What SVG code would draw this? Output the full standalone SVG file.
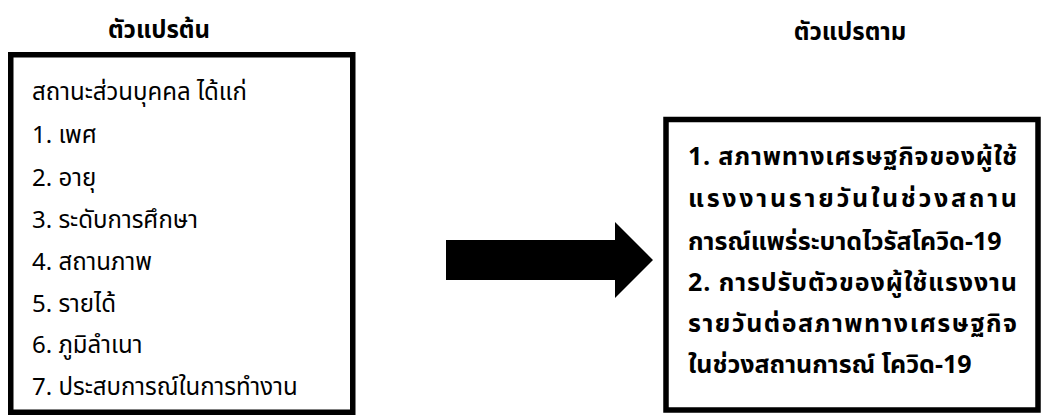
<svg xmlns="http://www.w3.org/2000/svg" width="1041" height="418" viewBox="0 0 1041 418">
<style>
.box{fill:#fff;stroke:#000;stroke-width:5.5}
.t{font-family:Tahoma,"Noto Sans Thai","Noto Sans",sans-serif;font-size:24px;fill:#000}
.b{font-weight:bold;font-size:25px}
.h{font-family:Tahoma,"Noto Sans Thai","Noto Sans",sans-serif;font-size:24px;font-weight:bold;fill:#000;text-anchor:middle}
</style>
<rect width="1041" height="418" fill="#fff"/>
<text class="h" x="159" y="38">ตัวแปรต้น</text>
<text class="h" x="850" y="40">ตัวแปรตาม</text>
<g id="independent">
<rect class="box" x="10.75" y="54.75" width="342" height="357.5"/>
<text class="t" x="32" y="100">สถานะส่วนบุคคล ได้แก่</text>
<text class="t" x="32" y="143">1. เพศ</text>
<text class="t" x="32" y="186">2. อายุ</text>
<text class="t" x="32" y="228">3. ระดับการศึกษา</text>
<text class="t" x="32" y="270">4. สถานภาพ</text>
<text class="t" x="32" y="312">5. รายได้</text>
<text class="t" x="32" y="353">6. ภูมิลำเนา</text>
<text class="t" x="32" y="395">7. ประสบการณ์ในการทำงาน</text>
</g>
<g id="connectors">
<polygon points="446,240 615,240 615,222 653,260 615,298 615,280 446,280" fill="#000"/>
</g>
<g id="dependent">
<rect class="box" x="666" y="119.5" width="372" height="290.5"/>
<text class="t b" x="688" y="165" textLength="329" lengthAdjust="spacing">1. สภาพทางเศรษฐกิจของผู้ใช้</text>
<text class="t b" x="688" y="207" textLength="329" lengthAdjust="spacing">แรงงานรายวันในช่วงสถาน</text>
<text class="t b" x="688" y="250">การณ์แพร่ระบาดไวรัสโควิด-19</text>
<text class="t b" x="688" y="291" textLength="329" lengthAdjust="spacing">2. การปรับตัวของผู้ใช้แรงงาน</text>
<text class="t b" x="688" y="332" textLength="329" lengthAdjust="spacing">รายวันต่อสภาพทางเศรษฐกิจ</text>
<text class="t b" x="688" y="373">ในช่วงสถานการณ์ โควิด-19</text>
</g>
</svg>
